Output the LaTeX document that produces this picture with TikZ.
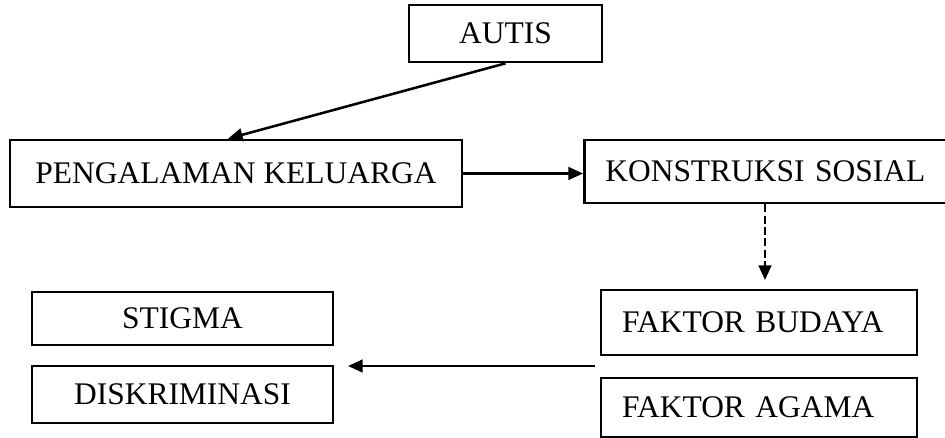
\documentclass[tikz,border=0pt]{standalone}
\usepackage{fontspec}
\setmainfont{Liberation Serif}
\usetikzlibrary{arrows.meta}
\begin{document}
\begin{tikzpicture}[x=0.75pt,y=-0.75pt,
  box/.style={draw=black, line width=2pt, inner sep=0pt, rectangle,
    font=\fontsize{23.6}{28}\selectfont, align=center},
  leftbox/.style={box, align=left, inner xsep=15.75pt},
  arr/.style={line width=1.9pt, -{Triangle[length=11pt,width=9.5pt]}},
  darr/.style={arr, dash pattern=on 6pt off 2.5pt}]
\useasboundingbox (0,0) rectangle (945,438);
\clip (0,0) rectangle (945,438);
\node[box, minimum width=144.75pt, minimum height=42.75pt] (autis) at (505.5,33.5) {AUTIS};
\node[box, minimum width=339pt, minimum height=50.25pt] (peng) at (236,173.5) {PENGALAMAN KELUARGA};
\node[leftbox, anchor=west, text width=280pt, minimum height=47.25pt] (kons) at (583,171.5) {KONSTRUKSI SOSIAL};
\node[leftbox, text width=205.5pt, minimum height=48.75pt] (budaya) at (759,322.5) {FAKTOR BUDAYA};
\node[leftbox, text width=205.5pt, minimum height=44.25pt] (agama) at (759,407.5) {FAKTOR AGAMA};
\node[box, minimum width=225.75pt, minimum height=39.75pt] (stigma) at (182.5,318.5) {STIGMA};
\node[box, minimum width=225.75pt, minimum height=42.75pt] (disk) at (182.5,394.5) {DISKRIMINASI};
\coordinate (dtip) at (765,280);
\coordinate (hs) at (595,366);
\coordinate (he) at (348,366);
\draw[arr] (autis.south) -- ([xshift=-6pt]peng.north);
\draw[arr] (peng.east) -- (peng.east -| kons.west);
\draw[darr] (kons.south -| dtip) -- (dtip);
\draw[arr] (hs) -- (he);
\end{tikzpicture}
\end{document}
